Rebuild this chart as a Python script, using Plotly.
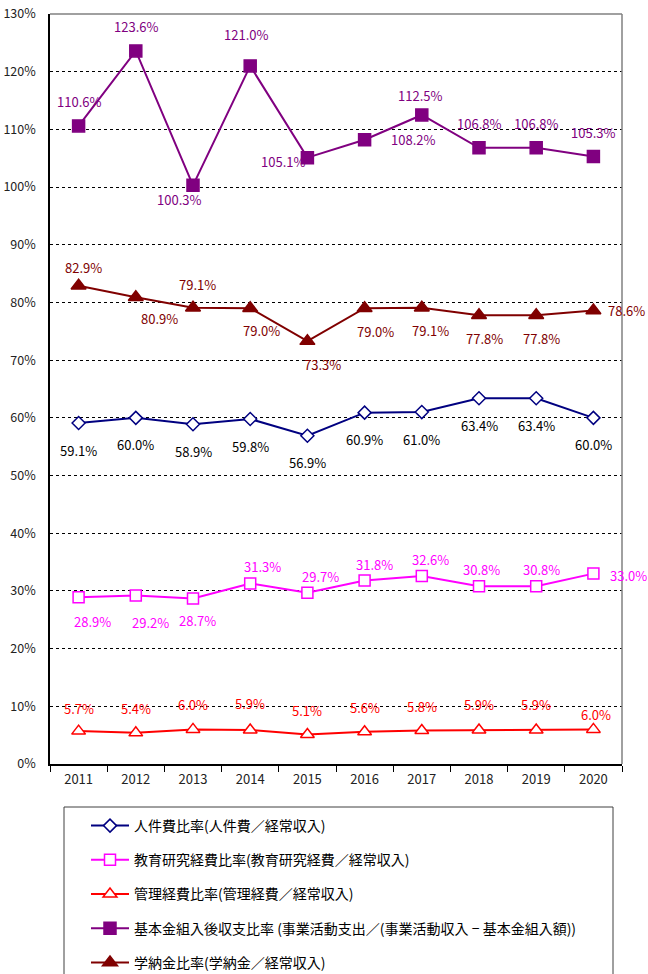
import plotly.graph_objects as go

years = ["2011", "2012", "2013", "2014", "2015", "2016", "2017", "2018", "2019", "2020"]

jinkenhi = [59.1, 60.0, 58.9, 59.8, 56.9, 60.9, 61.0, 63.4, 63.4, 60.0]
kyoiku = [28.9, 29.2, 28.7, 31.3, 29.7, 31.8, 32.6, 30.8, 30.8, 33.0]
kanri = [5.7, 5.4, 6.0, 5.9, 5.1, 5.6, 5.8, 5.9, 5.9, 6.0]
kihonkin = [110.6, 123.6, 100.3, 121.0, 105.1, 108.2, 112.5, 106.8, 106.8, 105.3]
gakunokin = [82.9, 80.9, 79.1, 79.0, 73.3, 79.0, 79.1, 77.8, 77.8, 78.6]

names = [
    "人件費比率(人件費／経常収入)",
    "教育研究経費比率(教育研究経費／経常収入)",
    "管理経費比率(管理経費／経常収入)",
    "基本金組入後収支比率 (事業活動支出／(事業活動収入 − 基本金組入額))",
    "学納金比率(学納金／経常収入)",
]

y_ticks = list(range(0, 131, 10))

FONT = "Noto Sans CJK JP"

# style: (line color, marker symbol, marker fill, marker size, label color)
styles = [
    ("#000080", "diamond", "white", 10, "#000000"),
    ("#FF00FF", "square", "white", 11, "#FF00FF"),
    ("#FF0000", "triangle-up", "white", 12, "#FF0000"),
    ("#800080", "square", "#800080", 12, "#800080"),
    ("#800000", "triangle-up", "#800000", 13, "#800000"),
]

# label offsets in pixels (dx right, dy down) and anchor
label_pos = [
    [(0, 27, "center")] * 10,
    [(14, 24, "center"), (15, 27, "center"), (4, 22, "center"), (12, -17, "center"),
     (13, -16, "center"), (10, -16, "center"), (9, -16, "center"), (2, -17, "center"),
     (5, -17, "center"), (15, 2, "left")],
    [(0, -23, "center"), (0, -24, "center"), (0, -25, "center"), (0, -26, "center"),
     (0, -24, "center"), (0, -24, "center"), (0, -24, "center"), (0, -25, "center"),
     (0, -25, "center"), (3, -15, "center")],
    [(0, -24, "center"), (0, -24, "center"), (-14, 14, "center"), (-4, -31, "center"),
     (0, 4, "right"), (24, 0, "left"), (-2, -19, "center"), (0, -24, "center"),
     (0, -24, "center"), (0, -24, "center")],
    [(5, -18, "center"), (24, 21, "center"), (4, -23, "center"), (11, 22, "center"),
     (15, 23, "center"), (11, 23, "center"), (9, 23, "center"), (5, 23, "center"),
     (5, 23, "center"), (13, 0, "left")],
]

series = [jinkenhi, kyoiku, kanri, kihonkin, gakunokin]

fig = go.Figure()
annotations = []
for i, (vals, name, st, lp) in enumerate(zip(series, names, styles, label_pos)):
    lc, sym, fill, msize, tc = st
    fig.add_trace(go.Scatter(
        x=years, y=vals, name=name, mode="lines+markers",
        legendgroup=f"g{i}",
        line=dict(color=lc, width=2),
        marker=dict(symbol=sym, size=msize, color=fill, line=dict(color=lc, width=1.5)),
        cliponaxis=False,
    ))
    for ci, (v, (dx, dy, anc)) in enumerate(zip(vals, lp)):
        # category axes place annotations by category index
        annotations.append(dict(
            x=ci, y=v, xref="x", yref="y", text=f"{v:.1f}%", showarrow=False,
            xanchor=anc, yanchor="middle", xshift=dx, yshift=-dy,
            font=dict(family=FONT, size=13, color=tc),
        ))

L, R, T, B = 50, 26, 14, 210
W, H = 648, 974
pw = W - L - R
ph = H - T - B

def px_x(p):
    return (p - L) / pw

def px_y(p):
    return (H - B - p) / ph

shapes = [
    dict(type="line", xref="paper", yref="paper", x0=0, x1=1, y0=1, y1=1,
         line=dict(color="#808080", width=1.5)),
    dict(type="line", xref="paper", yref="paper", x0=1, x1=1, y0=0, y1=1,
         line=dict(color="#808080", width=1.5)),
    dict(type="rect", xref="paper", yref="paper", x0=px_x(64), x1=px_x(613),
         y0=px_y(807), y1=px_y(1000), line=dict(color="#404040", width=1)),
]

fig.update_layout(
    width=W, height=H,
    margin=dict(l=L, r=R, t=T, b=B, autoexpand=False),
    paper_bgcolor="white", plot_bgcolor="white",
    font=dict(family=FONT, size=12, color="black"),
    showlegend=True,
    legend=dict(
        x=px_x(86), y=px_y(810), xanchor="left", yanchor="top",
        traceorder="grouped", tracegroupgap=13, itemwidth=38,
        font=dict(family=FONT, size=14, color="black"),
        bgcolor="rgba(0,0,0,0)",
    ),
    xaxis=dict(
        type="category", range=[-0.5, 9.5], automargin=False,
        showline=True, linecolor="black", linewidth=1.5,
        ticks="outside", tickson="boundaries", ticklen=6, tickcolor="black",
        showgrid=False, tickfont=dict(family=FONT, size=13, color="#222"),
        ticklabelstandoff=3,
    ),
    yaxis=dict(
        range=[0, 130], tickvals=y_ticks, ticktext=[f"{t}%" for t in y_ticks],
        automargin=False,
        showline=True, linecolor="black", linewidth=1.5,
        showgrid=True, gridcolor="black", griddash="dot", gridwidth=1,
        zeroline=False, ticks="", ticklabelstandoff=10,
        tickfont=dict(family=FONT, size=12.5, color="#222"),
    ),
    annotations=annotations,
    shapes=shapes,
)

fig.write_html(
    "out.html",
    config={"displayModeBar": False},
    post_script="document.body.style.margin='0';document.body.style.overflow='hidden';",
)
